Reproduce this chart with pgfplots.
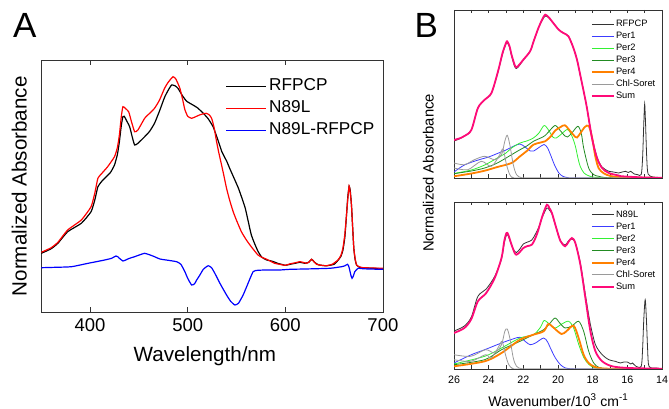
\documentclass[border=0pt]{standalone}
\usepackage{fontspec}
\setmainfont{Liberation Sans}
\usepackage{pgfplots}
\pgfplotsset{compat=1.18}
\definecolor{cper1}{HTML}{3C3CFF}
\definecolor{cper2}{HTML}{33F033}
\definecolor{cper3}{HTML}{228B22}
\definecolor{cper4}{HTML}{FF8000}
\definecolor{csoret}{HTML}{9A9A9A}
\definecolor{csum}{HTML}{FF0A78}
\definecolor{cframe}{HTML}{333333}
\definecolor{cred}{HTML}{FF0000}
\definecolor{cblue}{HTML}{0000FF}
\definecolor{cblack}{HTML}{000000}
\begin{document}
\begin{tikzpicture}
\useasboundingbox (0,0) rectangle (669bp,409bp);
\pgfplotsset{
  myax/.style={scale only axis, anchor=south west,
    axis line style={cframe, line width=0.8bp},
    every tick/.style={cframe, line width=0.8bp},
    tick align=inside, xtick pos=both, ytick=\empty,
    /pgf/number format/assume math mode=true,
    /pgf/number format/1000 sep={},
    legend cell align=left},
  bax/.style={myax, width=208bp, xmin=14, xmax=26, x dir=reverse, ymin=0,
    xtick={14,16,...,26}, minor xtick={15,17,...,25},
    major tick length=3.5bp, minor tick length=3.5bp,
    ticklabel style={font=\fontsize{10.7bp}{12bp}\selectfont},
    xticklabel style={yshift=-3.2bp},
    legend style={draw=none, fill=none, anchor=north west,
      font=\fontsize{9.3bp}{11bp}\selectfont, inner sep=0pt, row sep=0pt,
      nodes={inner sep=1.35bp, text height=7bp, text depth=2.3bp}},
    legend image code/.code={\draw[##1, sharp plot] (0bp,0bp) -- (22bp,0bp);},
    every axis plot/.append style={smooth, tension=0.5}},
  aax/.style={myax,
    legend style={draw=none, fill=none, at={(0.539,0.9417)}, anchor=north west,
      font=\fontsize{17.2bp}{20bp}\selectfont, inner sep=0pt, row sep=0pt,
      nodes={inner sep=2.4bp, text height=12.9bp, text depth=4.3bp}},
    every axis plot/.append style={smooth, tension=0.3}},
  aleg/.style={legend image code/.code={\draw[#1, line width=1.2bp] (0bp,0bp) -- (40bp,0bp);}},
}
% ---------------- Panel A ----------------
\begin{axis}[aax, at={(41.3bp,96.7bp)}, width=341.6bp, height=252bp,
  xmin=350, xmax=700, ymin=0, ymax=252, xtick={400,500,600,700},
  major tick length=5bp,
  ticklabel style={font=\fontsize{18.5bp}{20bp}\selectfont},
  xticklabel style={yshift=-3.2bp},
  xlabel={Wavelength/nm}, ylabel={Normalized Absorbance},
  label style={font=\fontsize{20.6bp}{24bp}\selectfont},
  xlabel style={at={(axis description cs:0.479,-0.196)}, anchor=base},
  ylabel style={at={(axis description cs:-0.0427,0.5)}, anchor=base}]
\addplot[cblack, line width=1.2bp, forget plot] coordinates {
(350,59)(360,63.5)(367,69)(377,80.6)(391,89)(401,100.6)(405,113)(408,125.6)
(412,131)(416.5,135.6)(421,140)(425,147.3)(428,158)(430,170.6)(432,187)
(433.6,195.6)(435,196)(437,192.3)(440.5,185.6)(443,176)(445.6,167.3)(449,169)
(455.9,175.6)(461,181)(466,189)(471,201)(476.3,215)(480,222)(483.5,227.3)
(487,226.5)(490,224)(495,216)(499,211)(505,207.5)(510,204.5)(516,199)
(521,193.5)(526,185.6)(530,175)(535,160.6)(540,151)(543,144)(548,133)
(552,124)(556,113)(559,104)(562,91)(565,78)(568,70)(572,61)(576,55)
(581,52.3)(585,51.5)(588,50.6)(592,49)(596,48)(600,47)(605,48)(610,49)
(615,50)(620,49)(624,50)(627,53)(630,50)(634,47.5)(642,46.5)(650,48)
(654,52)(657,56)(659,62)(661,75)(662.7,97)(664,115)(665.4,126)(666.5,122)
(667.8,107)(669,85)(670.2,64)(671.5,53)(673,47.3)(676,45)(680,44.5)
(690,44)(700,43.5)};
\addplot[cred, line width=1.2bp, forget plot] coordinates {
(350,60)(360,64.5)(367,70)(377,82.3)(391,92.3)(401,105.6)(405,120)(408,134)
(413,140)(418,145.6)(425,155.6)(428,165)(430,177.3)(432,196)(433.6,205.6)
(436,204)(439.5,200.6)(442,192)(445.6,180.6)(449,182.3)(455.9,194)(461,199)
(466,204)(471,212)(476.3,224)(480,230)(485,235.6)(488,233)(492,224)(495,212)
(497,203)(500,196)(504,194)(508,195.5)(512,197.3)(516,198.5)(519,199)
(522,197.5)(524.5,194)(527,185)(529.6,170.6)(532,159)(534.7,147.3)(537,137)
(539.8,124)(543,112)(546.6,100.6)(550,92)(555,80.6)(560,72.5)(564,67)
(568,62)(572,57.3)(576,55)(581,53)(585,51)(589,49)(594,48)(600,47)
(605,48.5)(610,49.5)(614.8,50.6)(618,50)(621.7,49)(624,50)(626.8,53)
(629,51)(632,48)(637,47)(642,46.6)(648,48)(654,52.3)(657,57)(659,64)
(661,78)(662.7,97.3)(664,113)(665.4,126.3)(666.5,120)(667.8,107.3)(669,85)
(670.2,64)(671.5,54)(673,47.3)(676,45.5)(679.8,44.6)(690,44.3)(700,44)};
\addplot[cblue, line width=1.2bp, forget plot] coordinates {
(350,44.6)(365,45)(381,45.6)(398,49)(415,52.3)(422,54)(426.5,56.3)
(428.5,55.5)(430,54)(433.6,51.3)(436,52)(438.6,53.3)(442,54.5)(445.6,55.6)
(451,57.5)(455.9,59)(461,57.5)(466,55.6)(471.5,53.3)(480,52)(488.6,50.6)
(493,48)(497.1,40.6)(500,34)(504,27.3)(507,28.5)(509,32)(512.5,37.3)
(516,43)(521,46.6)(524.5,44.5)(527.8,39)(533,29)(539.8,17.3)(544,11)
(548.3,7.3)(552,9)(556.8,17.3)(561,27)(567,40.6)(572,42)(580.8,42.3)
(594,42.3)(605,43)(620,43.3)(645.6,44)(657.6,45.6)(661,46.5)(663.7,48)
(665,46)(666,42.3)(667.2,37)(668.4,34)(669.8,36.5)(671.2,40.6)(674.6,44)
(680,43.5)(696.8,43)(700,43)};
\addlegendimage{aleg=cblack}
\addlegendentry{RFPCP}
\addlegendimage{aleg=cred}
\addlegendentry{N89L}
\addlegendimage{aleg=cblue}
\addlegendentry{N89L-RFPCP}
\end{axis}
% ---------------- Panel B top ----------------
\begin{axis}[bax, at={(454bp,231bp)}, height=168bp, ymax=168,
  xticklabels={},
  legend style={at={(0.657,0.952)}}]
\addplot[cframe, line width=0.8bp] coordinates {
(26,37)(25.7,39)(25.4,42)(25,48)(24.62,70)(24.23,78.3)(23.84,85)(23.46,106)
(23.2,124)(23.0,134)(22.93,135.5)(22.8,131)(22.68,122)(22.5,111.5)
(22.39,109.5)(22.2,113)(22.0,118)(21.61,126.7)(21.4,137)(21.13,150)
(20.9,158)(20.74,162)(20.55,160.5)(20.35,156.7)(19.96,148.3)(19.69,145)
(19.4,142)(19.11,130)(18.9,118)(18.72,103.3)(18.5,85)(18.33,70)(18.04,41)
(17.75,21)(17.46,11)(17.07,6.7)(16.8,6)(16.49,5)(16.3,6)(16.1,6.7)
(15.95,5.5)(15.81,6.7)(15.6,4)(15.4,3.3)(15.2,3.5)(15.12,20)(15.05,55)
(15.0,74)(14.95,55)(14.88,20)(14.8,4)(14.5,1)(14,0.5)};
\addlegendentry{RFPCP}
\addplot[cper1, line width=0.8bp] coordinates {
(26,6)(25.4,13)(24.6,18)(24,21)(23.5,24.5)(23,28)(22.6,31.5)(22.2,34)
(21.9,31)(21.6,27)(21.4,27)(21.1,30.5)(20.8,33.5)(20.6,30)(20.45,24)
(20.2,13)(19.95,5)(19.7,1.5)(19.4,0.3)(19,0)(14,0)};
\addlegendentry{Per1}
\addplot[cper2, line width=0.8bp] coordinates {
(26,4.5)(25,8)(24.23,13)(23.5,20)(23,25)(22.68,30)(22.19,35)(21.8,37)
(21.42,40)(21.1,45)(20.8,52.5)(20.55,48)(20.3,41)(20.1,40)(19.8,44)
(19.45,48.5)(19.2,42)(19.0,32)(18.85,20)(18.72,11.7)(18.5,5)(18.2,2)
(17.8,0.5)(17,0)(14,0)};
\addlegendentry{Per2}
\addplot[cper3, line width=0.8bp] coordinates {
(26,4.3)(25,7)(24.23,10)(23.5,15)(22.68,23.3)(22.19,28.3)(21.8,32)
(21.42,36.7)(21.0,40)(20.74,42.5)(20.5,47)(20.17,52.5)(19.9,48)(19.6,42)
(19.45,41)(19.2,45)(18.85,51.7)(18.65,44)(18.52,30)(18.23,10)(17.94,3.3)
(17.65,1.7)(17.3,0.5)(16.5,0)(14,0)};
\addlegendentry{Per3}
\addplot[cper4, line width=1.8bp] coordinates {
(26,1.7)(25,4.5)(24.23,7.3)(23.5,11)(22.68,15)(22.19,21.7)(21.8,27)
(21.42,33.3)(21.0,35.5)(20.74,36.7)(20.4,42)(20.17,47.3)(19.85,51)
(19.6,52.7)(19.3,47)(19.0,41)(18.9,40.5)(18.7,45)(18.45,51)(18.23,52)
(18.04,41)(17.84,21)(17.65,9.7)(17.36,4.7)(16.97,2)(16.3,0.7)(14,0)};
\addlegendentry{Per4}
\addplot[csoret, line width=0.8bp] coordinates {
(26,15)(25.4,13.3)(24.82,18.3)(24.23,21.7)(23.65,18.3)(23.26,23.3)
(23.07,36.7)(22.93,42.7)(22.78,33.3)(22.58,13.3)(22.39,3.3)(22.1,0.3)
(21.5,0)(14,0)};
\addlegendentry{Chl-Soret}
\addplot[csoret, line width=0.8bp, forget plot] coordinates {
(26,10)(25.2,8.3)(24.43,16.7)(23.84,11.7)(23.36,23.3)(23.17,29)
(22.97,13.3)(22.78,3.3)(22.58,0.3)(22,0)(14,0)};
\addplot[csum, line width=1.8bp] coordinates {
(26,38)(25.7,39.5)(25.4,42)(25,48)(24.62,70)(24.23,78.3)(23.84,85)
(23.46,106.7)(23.2,125)(23.0,135)(22.93,136.7)(22.8,132)(22.68,123.3)
(22.5,113)(22.39,110.7)(22.2,114)(22.0,118.3)(21.61,126.7)(21.4,137)
(21.13,150)(20.9,159)(20.74,163.3)(20.55,161)(20.35,156.7)(19.96,148.3)
(19.69,145)(19.4,141.7)(19.11,130)(18.9,118)(18.72,103.3)(18.5,85)
(18.33,70)(18.04,40)(17.75,20)(17.46,10)(17.07,5)(16.5,2.5)(16.29,1.7)
(15,0.5)(14,0.2)};
\addlegendentry{Sum}
\end{axis}
% ---------------- Panel B bottom ----------------
\begin{axis}[bax, at={(454bp,40bp)}, height=167bp, ymax=167,
  xlabel={Wavenumber/10\textsuperscript{3} cm\textsuperscript{-1}},
  xlabel style={font=\fontsize{14bp}{16bp}\selectfont,
    at={(axis description cs:0.5015,-0.2216)}, anchor=base},
  legend style={at={(0.657,0.96)}}]
\addplot[cframe, line width=0.8bp] coordinates {
(26,38)(25.4,43)(25,52)(24.62,72.7)(24.14,80)(23.65,92.7)(23.26,110)
(23.1,126)(22.97,134)(22.87,133)(22.68,124)(22.5,117.5)(22.39,116.5)
(22.2,120)(22.0,125)(21.75,127)(21.51,129)(21.3,135)(21.13,141)(20.9,152)
(20.64,161)(20.5,159)(20.35,155)(20.1,141)(19.86,128)(19.59,124)(19.4,128)
(19.2,130)(19.0,126)(18.71,106)(18.42,74.3)(18.23,54)(18.13,44.3)
(17.84,24.3)(17.45,14.3)(17.07,9.3)(16.7,7.7)(16.4,6)(16.2,7)(16.0,7)
(15.8,5)(15.7,6)(15.5,2.7)(15.2,2.7)(15.12,20)(15.05,50)(14.97,69.3)
(14.9,50)(14.83,20)(14.75,2.7)(14.35,1)(14,0.3)};
\addlegendentry{N89L}
\addplot[cper1, line width=0.8bp] coordinates {
(26,6)(25,14.3)(24.23,19.3)(23.26,26)(22.6,30)(22.19,31.7)(21.85,27)
(21.6,24.3)(21.3,26)(20.83,31)(20.6,27)(20.44,21)(20.15,11)(19.86,4.3)
(19.57,1)(19.2,0.2)(18.5,0)(14,0)};
\addlegendentry{Per1}
\addplot[cper2, line width=0.8bp] coordinates {
(26,5)(24.23,12.7)(23.26,21)(22.19,31)(21.42,34.3)(21.0,42)(20.8,48.5)
(20.5,45)(20.17,41)(19.78,45)(19.39,47.7)(19.1,41)(18.8,24.3)(18.5,11)
(18.2,4.3)(17.84,1)(17,0)(14,0)};
\addlegendentry{Per2}
\addplot[cper3, line width=0.8bp] coordinates {
(26,4.3)(24.23,9.3)(23.26,19.3)(22.19,27.7)(21.42,34.3)(20.83,39.3)
(20.5,45)(20.17,51)(19.9,46)(19.59,41)(19.2,43)(18.81,47.7)(18.52,37.7)
(18.23,17.7)(17.94,6)(17.65,1.7)(17.2,0.3)(16.5,0)(14,0)};
\addlegendentry{Per3}
\addplot[cper4, line width=1.8bp] coordinates {
(26,2.7)(24.23,7.7)(23.26,16)(22.19,29.3)(21.42,34.3)(20.83,37.7)
(20.56,45)(20.3,42)(19.8,35)(19.5,38)(19.1,43.3)(18.81,31)(18.52,14.3)
(18.23,6)(17.94,2.7)(17.65,1)(17,0.3)(14,0)};
\addlegendentry{Per4}
\addplot[csoret, line width=0.8bp] coordinates {
(26,14.3)(25.03,12.7)(24.18,19.3)(23.65,16)(23.26,24.3)(23.07,37.7)
(22.93,40)(22.78,31)(22.58,11)(22.39,2.7)(22.1,0.3)(21.5,0)(14,0)};
\addlegendentry{Chl-Soret}
\addplot[csoret, line width=0.8bp, forget plot] coordinates {
(26,9.3)(25.03,7.7)(24.18,14.3)(23.84,11)(23.36,24.3)(23.22,27.7)
(23.03,14.3)(22.84,4.3)(22.58,0.3)(22,0)(14,0)};
\addplot[csum, line width=1.8bp] coordinates {
(26,36)(25.4,41)(25,50)(24.62,67.7)(24.14,76)(23.65,91)(23.26,111)
(23.1,128)(22.97,136)(22.87,134.3)(22.68,124.3)(22.5,116)(22.39,114.3)
(22.2,117)(22.0,121)(21.75,123)(21.51,124.3)(21.3,131)(21.13,139.3)
(20.9,153)(20.64,164.3)(20.5,161)(20.35,156)(20.1,141)(19.86,128)
(19.59,122.7)(19.4,127)(19.2,131)(19.0,126)(18.71,104.3)(18.42,71)
(18.13,37.7)(17.84,17.7)(17.45,7.7)(16.87,2.7)(15.9,1)(14,0.3)};
\addlegendentry{Sum}
\end{axis}
% ---------------- labels ----------------
\node[anchor=base west, inner sep=0pt, font=\fontsize{35bp}{40bp}\selectfont] at (13bp,371bp) {A};
\node[anchor=base west, inner sep=0pt, font=\fontsize{35bp}{40bp}\selectfont] at (414.5bp,371bp) {B};
\node[rotate=90, anchor=base, inner sep=0pt, font=\fontsize{14.8bp}{16bp}\selectfont] at (433.5bp,236bp) {Normalized Absorbance};
\end{tikzpicture}
\end{document}
